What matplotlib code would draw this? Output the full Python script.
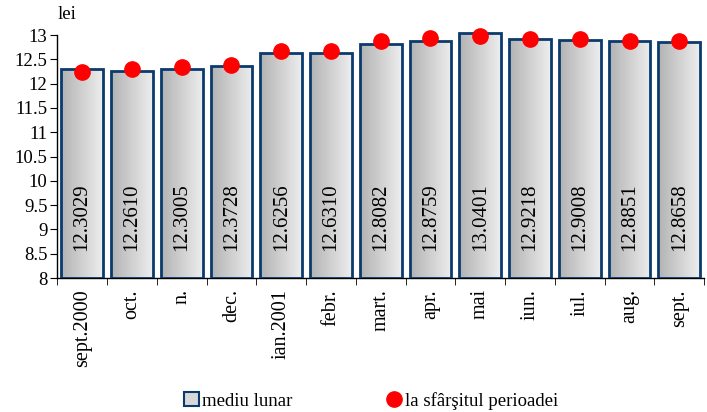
import numpy as np
import matplotlib
matplotlib.use("Agg")
import matplotlib.pyplot as plt
from matplotlib.patches import Patch
from matplotlib.lines import Line2D

categories = ["sept.2000", "oct.", "n.", "dec.", "ian.2001", "febr.", "mart.",
              "apr.", "mai", "iun.", "iul.", "aug.", "sept."]
monthly_avg = [12.3029, 12.2610, 12.3005, 12.3728, 12.6256, 12.6310, 12.8082,
               12.8759, 13.0401, 12.9218, 12.9008, 12.8851, 12.8658]
end_period = [12.23, 12.31, 12.35, 12.39, 12.67, 12.68, 12.87,
              12.94, 12.97, 12.92, 12.91, 12.87, 12.87]
bar_labels = ["12.3029", "12.2610", "12.3005", "12.3728", "12.6256", "12.6310", "12.8082",
              "12.8759", "13.0401", "12.9218", "12.9008", "12.8851", "12.8658"]
y_ticks = [8, 8.5, 9, 9.5, 10, 10.5, 11, 11.5, 12, 12.5, 13]

plt.rcParams['font.family'] = ['Liberation Serif', 'DejaVu Serif']

fig = plt.figure(figsize=(7.07, 4.12), dpi=100)
ytop = 13.2
ax = fig.add_axes([0.081, 0.325, 0.915, 0.59 * (ytop - 8) / 5])

x = np.arange(len(categories))
edge = "#0b3a6e"
bars = ax.bar(x, np.array(monthly_avg) - 8, bottom=8, width=0.84,
              facecolor="none", edgecolor=edge, linewidth=2.0, zorder=3)

grad = np.linspace(0.70, 0.93, 64).reshape(1, -1)
for b in bars:
    x0 = b.get_x(); w = b.get_width(); y0 = b.get_y(); h = b.get_height()
    im = ax.imshow(grad, cmap="gray", vmin=0, vmax=1, aspect="auto",
                   extent=[x0, x0 + w, y0, y0 + h], zorder=2, interpolation="bilinear")
    im.set_clip_path(b)

for xi, lab in zip(x, bar_labels):
    ax.text(xi, 9.25, lab, rotation=90, ha="center", va="center", fontsize=15, zorder=5)

ax.plot(x, end_period, "o", color="#ff0000", markersize=11, zorder=6, linestyle="none")

ax.set_xlim(-0.5, len(categories) - 0.5)
ax.set_ylim(8, ytop)
ax.spines["left"].set_bounds(8, 13)
ax.set_yticks(y_ticks)
ax.set_yticklabels([f"{v:g}" for v in y_ticks], fontsize=13.5)
ax.set_xticks(x)
ax.set_xticklabels(categories, rotation=90, fontsize=14.5)
ax.set_xticks(np.arange(-0.5, len(categories), 1), minor=True)
ax.tick_params(axis="x", which="major", length=0, pad=8)
ax.tick_params(axis="x", which="minor", length=5, direction="out")
ax.tick_params(axis="y", length=5, direction="out", pad=2)
for s in ["top", "right"]:
    ax.spines[s].set_visible(False)
ax.spines["left"].set_linewidth(1.0)
ax.spines["bottom"].set_linewidth(1.0)

fig.text(0.081, 0.945, "lei", fontsize=13.5, ha="left", va="bottom")

handles = [Patch(facecolor="#d8d8d8", edgecolor=edge, linewidth=1.5, label="mediu lunar"),
           Line2D([], [], marker="o", color="#ff0000", linestyle="none", markersize=11,
                  label="la sfârşitul perioadei")]
fig.legend(handles=handles, loc="lower center", bbox_to_anchor=(0.525, -0.035), ncol=2,
           frameon=False, fontsize=13.5, columnspacing=5.0, handlelength=0.8,
           handletextpad=0.2)

fig.savefig("out.png", dpi=100)
